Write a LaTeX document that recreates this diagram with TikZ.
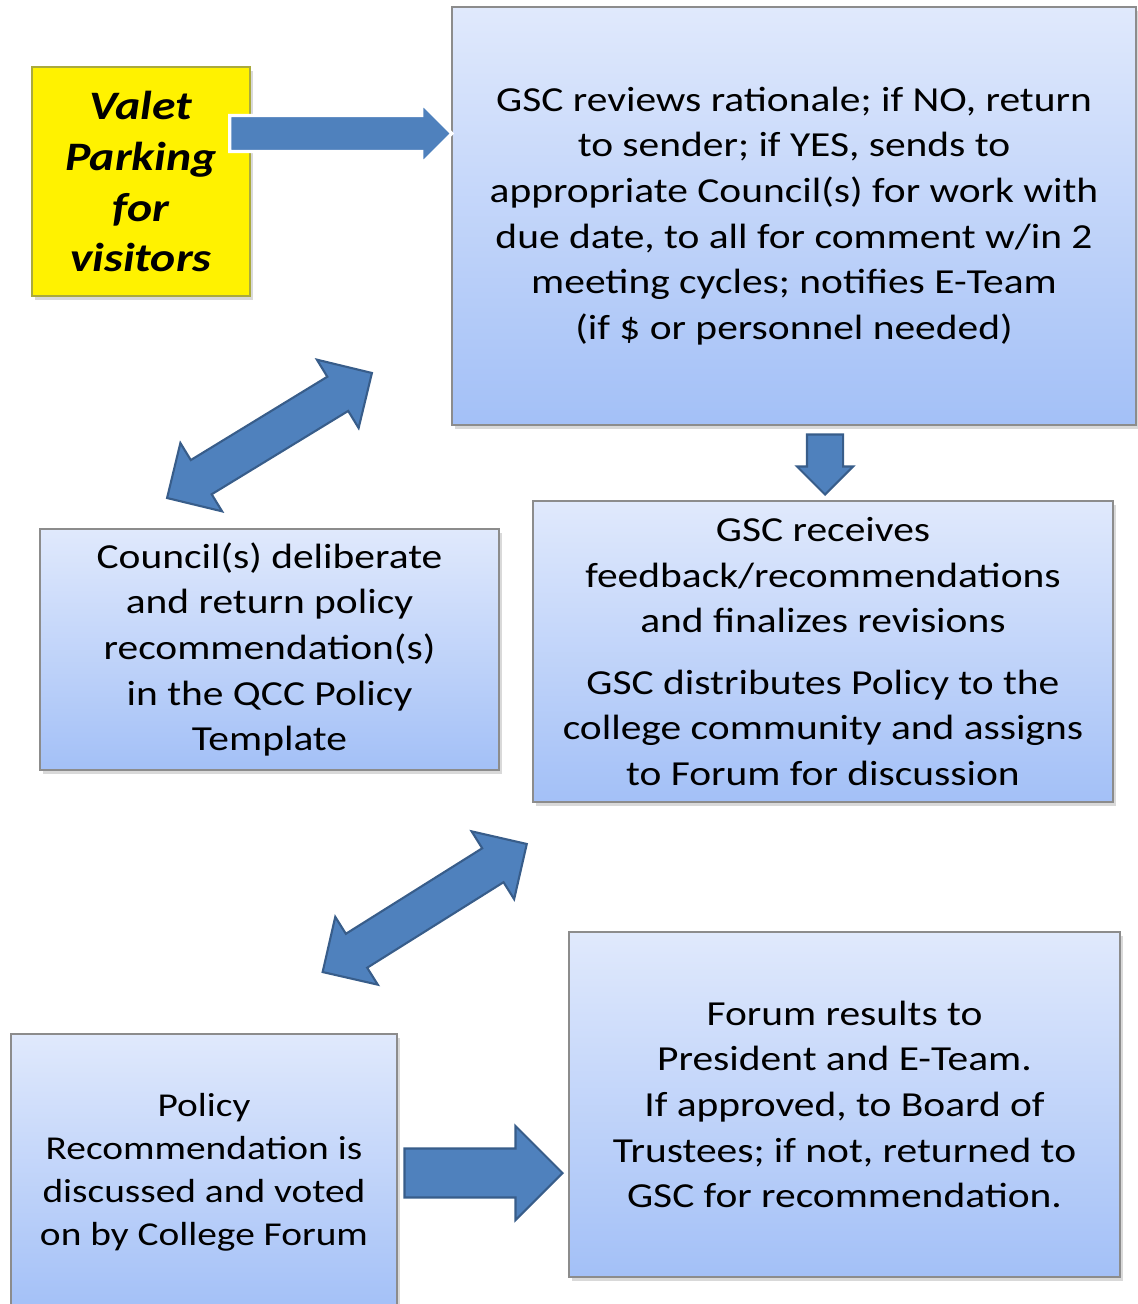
\documentclass[tikz,border=0pt]{standalone}
\usepackage{fontspec}
\setmainfont[FakeStretch=1.18]{Carlito}
\usetikzlibrary{shapes.arrows,shadows}
\definecolor{boxtop}{RGB}{224,233,252}
\definecolor{boxbot}{RGB}{163,192,247}
\definecolor{boxline}{RGB}{140,140,140}
\definecolor{arrowfill}{RGB}{79,129,189}
\definecolor{arrowline}{RGB}{56,93,138}
\definecolor{valetline}{RGB}{170,170,60}

\begin{document}
\begin{tikzpicture}[x=0.02cm, y=-0.02cm,
    boxsize/.style 2 args={minimum width=#1*0.02cm, minimum height=#2*0.02cm},
    stepbox/.style={draw=boxline, line width=0.6pt, top color=boxtop, bottom color=boxbot,
        inner sep=0pt, align=center, font=\fontsize{20}{26}\selectfont,
        drop shadow={shadow xshift=1.5pt, shadow yshift=-2.5pt, opacity=0.3}},
    valetbox/.style={draw=valetline, line width=0.6pt, fill=yellow, inner sep=0pt, align=center,
        font=\fontsize{23}{29}\selectfont\bfseries\itshape,
        drop shadow={shadow xshift=1.5pt, shadow yshift=-2.5pt, opacity=0.3}},
    fatarrow/.style n args={3}{single arrow, fill=arrowfill, draw=arrowline, line width=1.2pt,
        single arrow tip angle=90, single arrow head indent=0pt, anchor=tip,
        minimum height=#1*0.02cm, inner sep=#2*0.01cm, single arrow head extend=(#3-#2)*0.01cm},
    twoarrow/.style n args={3}{double arrow, fill=arrowfill, draw=arrowline, line width=1.2pt,
        double arrow tip angle=90, double arrow head indent=0pt,
        minimum height=#1*0.02cm, inner sep=#2*0.01cm, double arrow head extend=(#3-#2)*0.01cm}]
    \useasboundingbox (0,0) rectangle (1137,1304);

    % boxes
    \node[valetbox, boxsize={218}{229}] (valet) at (141,181.5) {Valet\\Parking\\for\\visitors};
    \node[stepbox, boxsize={684}{418}] (review) at (794,216)
        {GSC reviews rationale; if NO, return\\to sender; if YES, sends to\\appropriate Council(s) for work with\\due date, to all for comment w/in 2\\meeting cycles; notifies E-Team\\(if \$ or personnel needed)};
    \node[stepbox, boxsize={459}{241}] (council) at (269.5,649.5)
        {Council(s) deliberate\\and return policy\\recommendation(s)\\in the QCC Policy\\Template};
    \node[stepbox, boxsize={580}{301}] (receive) at (823,651.5)
        {GSC receives\\feedback/recommendations\\and finalizes revisions\\[9pt]GSC distributes Policy to the\\college community and assigns\\to Forum for discussion};
    \node[stepbox, boxsize={386}{276}, font=\fontsize{19}{24.5}\selectfont] (policy) at (204,1172)
        {Policy\\Recommendation is\\discussed and voted\\on by College Forum};
    \node[stepbox, boxsize={551}{345}] (forum) at (844.5,1104.5)
        {Forum results to\\President and E-Team.\\If approved, to Board of\\Trustees; if not, returned to\\GSC for recommendation.};

    % block arrows
    \node[fatarrow={222}{33}{57}, draw=white, line width=1.8pt] (toreview) at (454,133.5) {};
    \node[fatarrow={60}{34}{54}, rotate=-90] (toreceive) at (825,496) {};
    \node[fatarrow={158}{47}{92}] (toforum) at (564,1173) {};
    \node[twoarrow={240}{38}{78}, rotate=31.4] (reviewcouncil) at (269.5,435.5) {};
    \node[twoarrow={241}{38}{78}, rotate=32.1] (receivepolicy) at (424.7,908) {};
\end{tikzpicture}
\end{document}
